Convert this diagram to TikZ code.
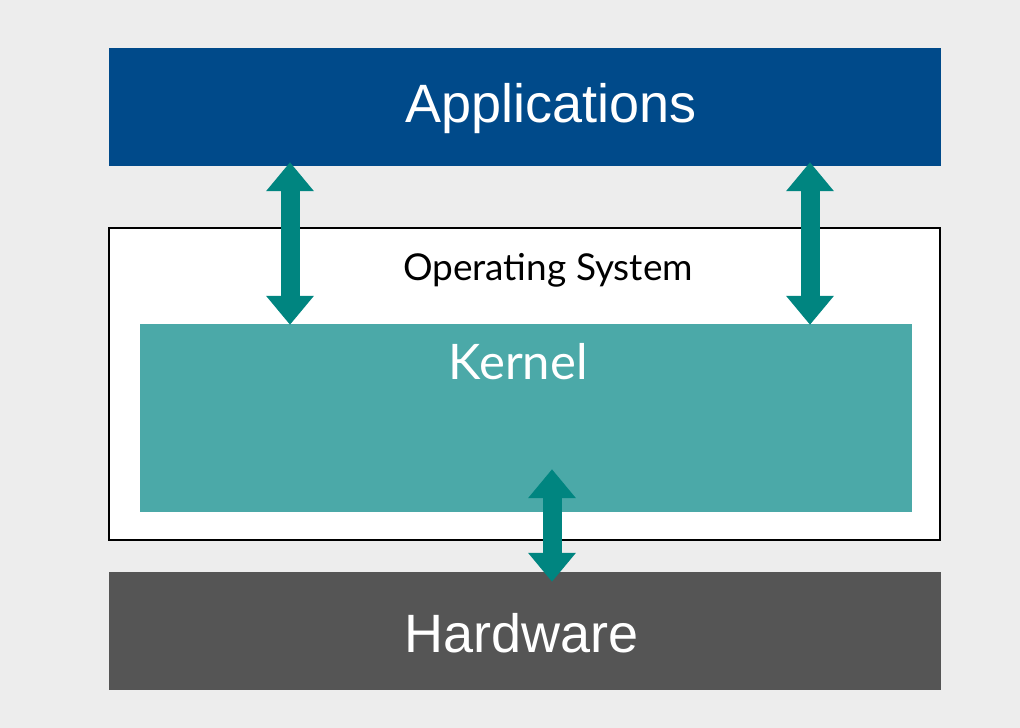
\documentclass[tikz,border=0pt]{standalone}
\usepackage{fontspec}
\setmainfont{Liberation Sans}
\newfontfamily\humanist{Lato}
\usepackage{xcolor}
\usetikzlibrary{positioning,arrows.meta}

\definecolor{bgGrey}{RGB}{237,237,237}
\definecolor{appBlue}{RGB}{0,74,138}
\definecolor{kernTeal}{RGB}{75,169,168}
\definecolor{arrTeal}{RGB}{0,133,128}
\definecolor{hwGrey}{RGB}{85,85,85}

\tikzset{
  layer/.style={draw=none, inner sep=0pt, minimum width=832pt, minimum height=118pt},
  bigtext/.style={text=white, font=\fontsize{54}{60}\selectfont},
  dblarrow/.style={draw=arrTeal, line width=19pt,
    {Triangle[width=46pt,length=29pt]}-{Triangle[width=46pt,length=29pt]}}
}

\begin{document}
\begin{tikzpicture}[x=1pt, y=-1pt]
\useasboundingbox[fill=bgGrey] (0,0) rectangle (1020,728);
% ---- layers ----
\node[layer, fill=appBlue] (apps) at (525,107) {};
\node[draw=black, line width=1.3pt, fill=white, inner sep=0pt,
      minimum width=831pt, minimum height=312pt] (os) at (524.5,384) {};
\node[fill=kernTeal, inner sep=0pt, minimum width=772pt, minimum height=188pt] (kernel) at (526,418) {};
\node[layer, fill=hwGrey] (hw) at (525,631) {};
% ---- labels ----
\node[bigtext] (appsLbl) at (551,109) {Applications};
\node[bigtext] (hwLbl) at (522,633) {Hardware};
\node[font=\humanist\fontsize{37}{44}\selectfont] (osLbl) at (548,270) {Operating System};
\node[text=white, font=\humanist\fontsize{49}{58}\selectfont] (kernLbl) at (518,362) {Kernel};
% ---- connectors ----
\draw[dblarrow] ([xshift=-235pt, yshift=4pt]apps.south) -- ([xshift=-236pt, yshift=-1pt]kernel.north);
\draw[dblarrow] ([xshift=285pt, yshift=4pt]apps.south) -- ([xshift=284pt, yshift=-1pt]kernel.north);
\draw[dblarrow] ([xshift=26pt, yshift=43pt]kernel.south) -- ([xshift=27pt, yshift=-10pt]hw.north);
\end{tikzpicture}
\end{document}
